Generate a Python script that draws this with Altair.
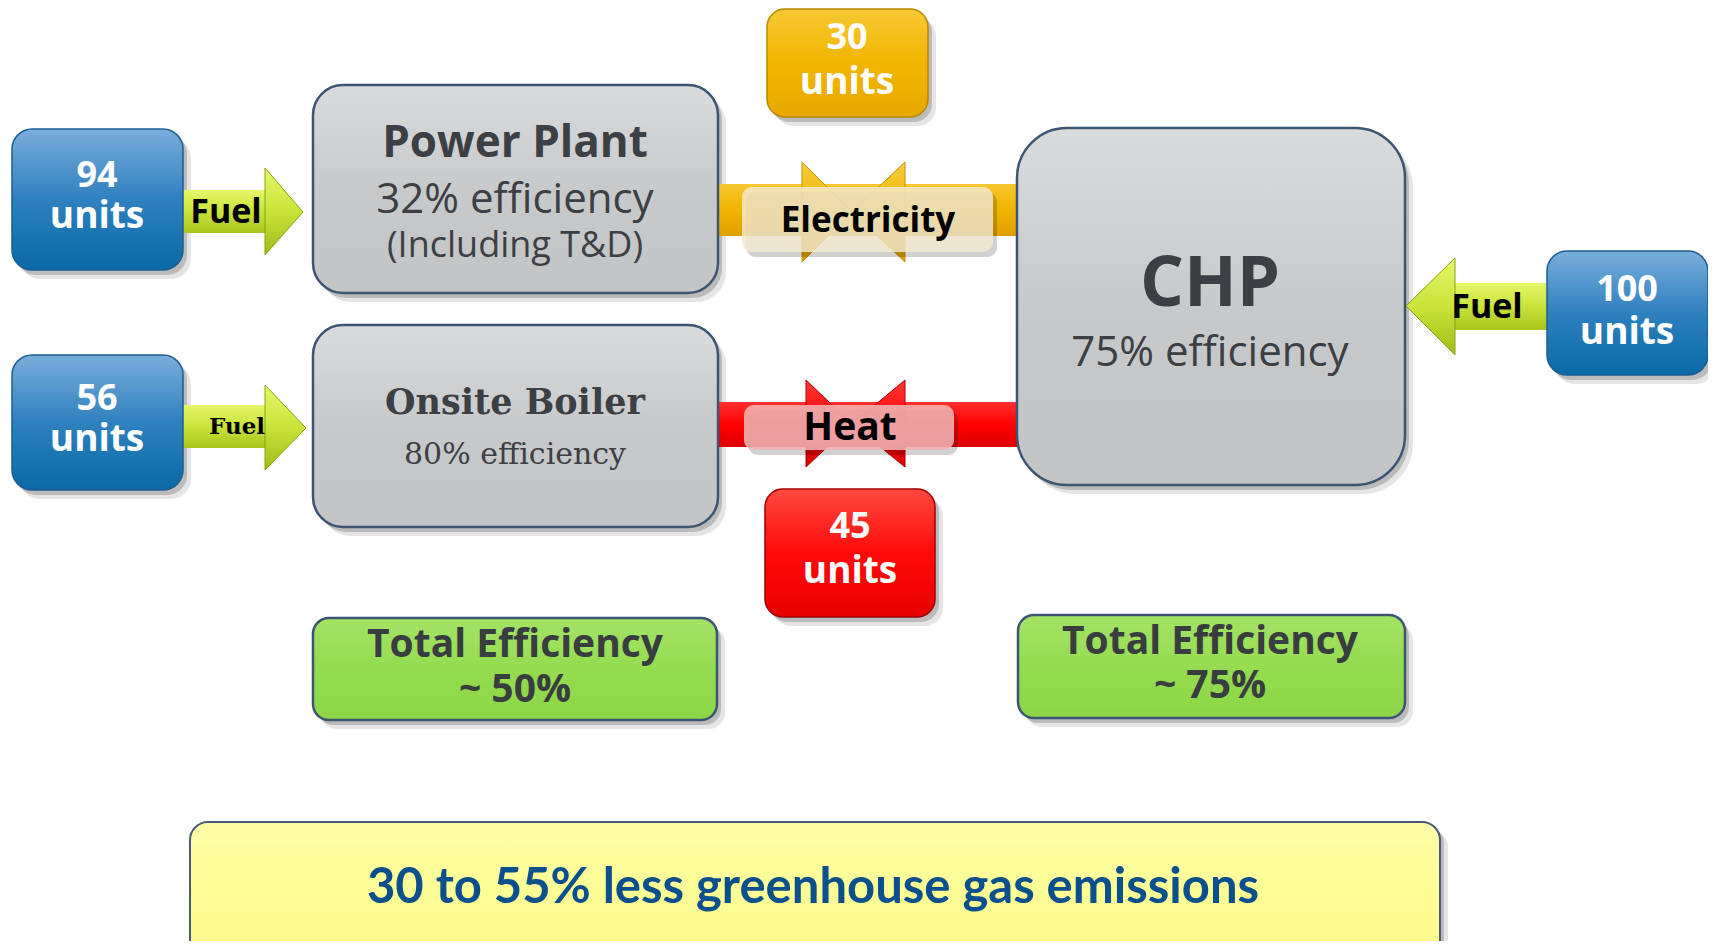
import altair as alt
import pandas as pd

# ---------------- data (reference pixel coordinates) ----------------
box_names = ["in94", "plant", "out30", "chp", "in100", "in56", "boiler", "out45", "tot50", "tot75", "ghg"]
box_x  = [12, 313, 767, 1017, 1547, 12, 313, 765, 313, 1018, 190]
box_x2 = [183, 718, 928, 1405, 1708, 183, 718, 935, 717, 1405, 1440]
box_y  = [129, 85, 9, 128, 251, 355, 325, 489, 618, 615, 822]
box_y2 = [270, 293, 117, 485, 375, 490, 527, 617, 720, 718, 965]

shaft_names = ["fuel1", "fuel2", "fuel3", "elec", "heat"]
shaft_x  = [180, 180, 1450, 718, 718]
shaft_x2 = [268, 268, 1552, 1017, 1017]
shaft_y  = [190, 405, 283, 184, 402]
shaft_y2 = [233, 448, 330, 236, 447]

head_names = ["f1", "f1", "f2", "f2", "f3", "f3", "e1", "e1", "e2", "e2", "h1", "h1", "h2", "h2"]
head_x  = [265, 303, 265, 306, 1455, 1406, 802, 852, 905, 852, 806, 852, 905, 852]
head_y  = [168, 212, 385, 428, 258, 306, 162, 212, 162, 212, 380, 424, 380, 424]
head_y2 = [255, 212, 470, 428, 355, 306, 262, 212, 262, 212, 467, 424, 467, 424]

label_names = ["elec", "heat"]
label_x  = [742, 744]
label_x2 = [993, 954]
label_y  = [187, 405]
label_y2 = [252, 450]

text_labels = ["94", "units", "56", "units", "100", "units", "30", "units", "45", "units",
               "Fuel", "Fuel", "Fuel",
               "Power Plant", "32% efficiency", "(Including T&D)",
               "Onsite Boiler", "80% efficiency",
               "CHP", "75% efficiency",
               "Electricity", "Heat",
               "Total Efficiency", "~ 50%", "Total Efficiency", "~ 75%",
               "30 to 55% less greenhouse gas emissions"]
text_x = [97, 97, 97, 97, 1627, 1627, 847, 847, 850, 850,
          226, 1487, 237,
          515, 515, 515,
          515, 515,
          1210, 1210,
          868, 850,
          515, 515, 1210, 1210,
          813]
text_y = [176, 217, 399, 440, 290, 333, 38, 83, 527, 572,
          213, 308, 427,
          144, 200, 246,
          403, 455,
          285, 353,
          221, 428,
          645, 690, 642, 686,
          888]
text_size = [36, 37, 36, 37, 36, 37, 36, 37, 36, 37,
             34, 34, 23,
             44, 42, 36,
             35, 30,
             69, 42,
             35, 39,
             39, 39, 39, 39,
             49]
text_color = ["white"] * 10 + ["black"] * 3 + ["#3c3f44"] * 7 + ["black"] * 2 + ["#3a3d40"] * 4 + ["#0b4f8c"]
text_style = ["sb"] * 10 + ["sb", "sb", "fb"] + ["sb", "s", "s"] + ["fb", "f"] + ["sb", "s"] + ["sb", "sb"] + ["sb"] * 4 + ["lb"]

# ---------------- helpers ----------------
XS = alt.Scale(domain=[8, 1708])
YS = alt.Scale(domain=[941, 8])

boxes = pd.DataFrame({"name": box_names, "x": box_x, "x2": box_x2, "y": box_y, "y2": box_y2})
shafts = pd.DataFrame({"name": shaft_names, "x": shaft_x, "x2": shaft_x2, "y": shaft_y, "y2": shaft_y2})
heads = pd.DataFrame({"name": head_names, "x": head_x, "y": head_y, "y2": head_y2})
labels = pd.DataFrame({"name": label_names, "x": label_x, "x2": label_x2, "y": label_y, "y2": label_y2})
texts = pd.DataFrame({"t": text_labels, "x": text_x, "y": text_y, "size": text_size,
                      "color": text_color, "style": text_style})


def grad(*cols):
    n = len(cols) - 1
    return alt.LinearGradient(
        gradient="linear",
        stops=[alt.GradientStop(color=c, offset=i / n) for i, c in enumerate(cols)],
        x1=0, x2=0, y1=0, y2=1)


def rects(df, names, **mark):
    return alt.Chart(df).transform_filter(
        alt.FieldOneOfPredicate(field="name", oneOf=names)
    ).mark_rect(**mark).encode(
        x=alt.X("x:Q", scale=XS, axis=None), x2="x2:Q",
        y=alt.Y("y:Q", scale=YS, axis=None), y2="y2:Q")


def heads_layer(names, fill, stroke):
    return alt.Chart(heads).transform_filter(
        alt.FieldOneOfPredicate(field="name", oneOf=names)
    ).mark_area(fill=fill, stroke=stroke, strokeWidth=1, opacity=1).encode(
        x=alt.X("x:Q", scale=XS, axis=None),
        y=alt.Y("y:Q", scale=YS, axis=None), y2="y2:Q",
        detail="name:N")


def shadow(df, names, r):
    a = rects(df, names, color="#000000", opacity=0.10, cornerRadius=r,
              xOffset=8, x2Offset=8, yOffset=9, y2Offset=9)
    b = rects(df, names, color="#000000", opacity=0.18, cornerRadius=r,
              xOffset=4, x2Offset=4, yOffset=5, y2Offset=5)
    return [a, b]


layers = []
# shadows
layers += shadow(boxes, ["in94", "in56", "in100"], 20)
layers += shadow(boxes, ["plant", "boiler"], 30)
layers += shadow(boxes, ["chp"], 50)
layers += shadow(boxes, ["out30", "out45"], 18)
layers += shadow(boxes, ["tot50", "tot75", "ghg"], 16)

# arrow shafts and heads
layers.append(rects(shafts, ["fuel1", "fuel2", "fuel3"], fill=grad("#e6f76a", "#c9e33a", "#a8c41e")))
layers.append(rects(shafts, ["elec"], fill=grad("#f7c832", "#f0b400", "#e0a000")))
layers.append(rects(shafts, ["heat"], fill=grad("#ff3030", "#ff0000", "#dd0000")))
layers.append(heads_layer(["f1", "f2", "f3"], grad("#e6f76a", "#c9e33a", "#a0bc18"), "#8aa414"))
layers.append(heads_layer(["e1", "e2"], grad("#f7cc3c", "#f0b400", "#d99c00"), "#c99000"))
layers.append(heads_layer(["h1", "h2"], grad("#ff3a3a", "#ff0000", "#d40000"), "#b00000"))

# boxes
layers.append(rects(boxes, ["in94", "in56", "in100"], fill=grad("#7aaedb", "#2f80bf", "#0a69a6"),
                    cornerRadius=20, stroke="#1c5f92", strokeWidth=1.5))
layers.append(rects(boxes, ["plant", "boiler"], fill=grad("#dadbdd", "#c8c9cb", "#c3c4c6"),
                    cornerRadius=30, stroke="#3d5575", strokeWidth=2.5))
layers.append(rects(boxes, ["chp"], fill=grad("#dadbdd", "#c8c9cb", "#c3c4c6"),
                    cornerRadius=50, stroke="#3d5575", strokeWidth=2.5))
layers.append(rects(boxes, ["out30"], fill=grad("#f7c935", "#f1b500", "#e8a800"),
                    cornerRadius=18, stroke="#b78800", strokeWidth=1.5))
layers.append(rects(boxes, ["out45"], fill=grad("#ff4a40", "#ff0a0a", "#e80000"),
                    cornerRadius=18, stroke="#a00000", strokeWidth=1.5))
layers.append(rects(boxes, ["tot50", "tot75"], fill=grad("#a3e366", "#95dc50", "#8cd646"),
                    cornerRadius=16, stroke="#3d5575", strokeWidth=2.5))
layers.append(rects(boxes, ["ghg"], fill=grad("#ffffa8", "#fdfd95", "#f8f888"),
                    cornerRadius=18, stroke="#4a5a78", strokeWidth=2))

# translucent label boxes
layers += shadow(labels, ["elec", "heat"], 10)[1:]
layers.append(rects(labels, ["elec"], fill="#f4ead0", opacity=0.82, cornerRadius=10))
layers.append(rects(labels, ["heat"], fill="#f2b4b4", opacity=0.88, cornerRadius=10))

# texts
fonts = {
    "sb": ("Open Sans", "bold"),
    "s": ("Open Sans", "normal"),
    "fb": ("DejaVu Serif", "bold"),
    "f": ("DejaVu Serif", "normal"),
    "lb": ("Lato", "bold"),
}
for key, (fam, wt) in fonts.items():
    layers.append(
        alt.Chart(texts).transform_filter(alt.datum.style == key).mark_text(
            font=fam, fontWeight=wt, align="center", baseline="middle"
        ).encode(
            x=alt.X("x:Q", scale=XS, axis=None),
            y=alt.Y("y:Q", scale=YS, axis=None),
            text="t:N",
            size=alt.Size("size:Q", scale=None, legend=None),
            color=alt.Color("color:N", scale=None, legend=None),
        )
    )

chart = alt.layer(*layers).properties(
    width=1700, height=933, padding=0, autosize=alt.AutoSizeParams(type="none"),
    background="white"
).configure_view(stroke=None)

chart.save("out.html", embed_options={"renderer": "svg", "actions": False})
